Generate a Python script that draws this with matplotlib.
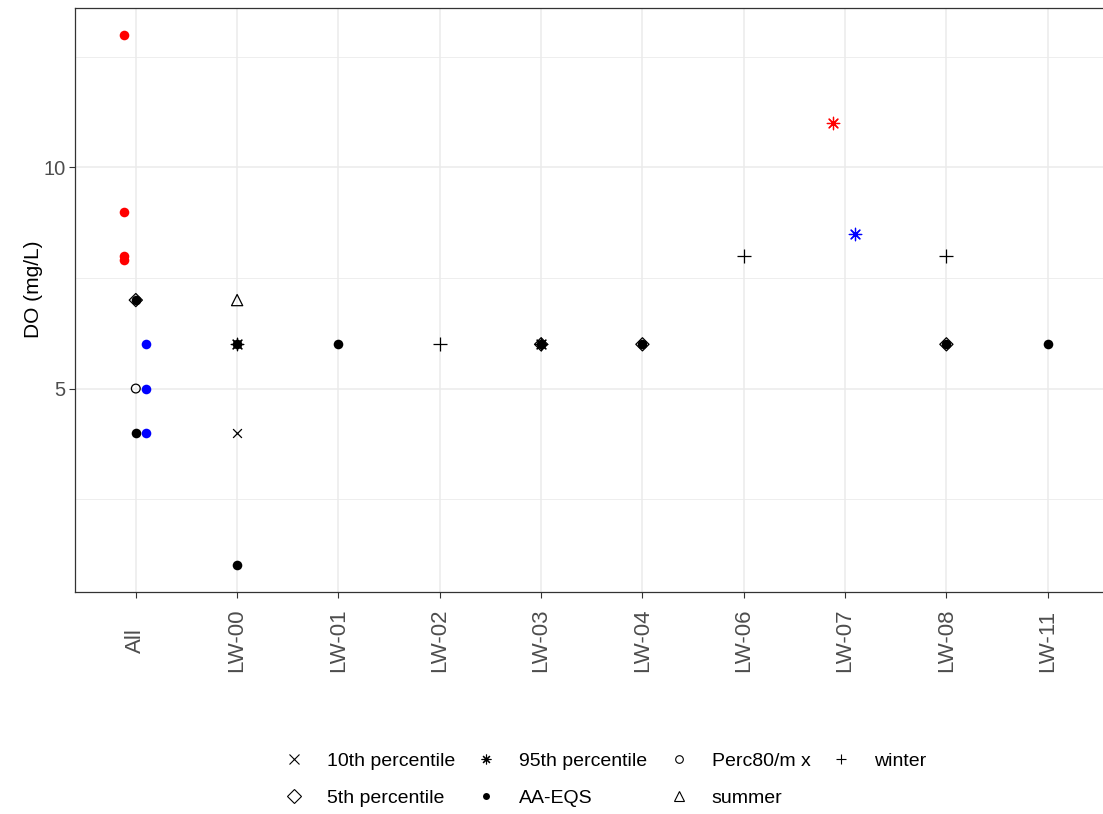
import matplotlib.pyplot as plt
from matplotlib.lines import Line2D

plt.rcParams['font.family'] = ['Liberation Sans', 'DejaVu Sans']

# sites along the x axis
sites = ['All', 'LW-00', 'LW-01', 'LW-02', 'LW-03', 'LW-04', 'LW-06', 'LW-07', 'LW-08', 'LW-11']

# one entry per plotted point
pt_site = ['All', 'All', 'All', 'All',
           'All', 'All', 'All', 'All',
           'All', 'All', 'All',
           'LW-00', 'LW-00', 'LW-00', 'LW-00', 'LW-00',
           'LW-01', 'LW-02',
           'LW-03', 'LW-03', 'LW-03',
           'LW-04', 'LW-04',
           'LW-06',
           'LW-07', 'LW-07',
           'LW-08', 'LW-08', 'LW-08',
           'LW-11']
pt_value = [13, 9, 8, 7.9,
            7, 7, 5, 4,
            6, 5, 4,
            7, 6, 6, 4, 1,
            6, 6,
            6, 6, 6,
            6, 6,
            8,
            11, 8.5,
            8, 6, 6,
            6]
pt_stat = ['AA-EQS', 'AA-EQS', 'AA-EQS', 'AA-EQS',
           '5th percentile', 'AA-EQS', 'Perc80/m x', 'AA-EQS',
           'AA-EQS', 'AA-EQS', 'AA-EQS',
           'summer', 'AA-EQS', '95th percentile', '10th percentile', 'AA-EQS',
           'AA-EQS', 'winter',
           'AA-EQS', '95th percentile', '5th percentile',
           'AA-EQS', '5th percentile',
           'winter',
           '95th percentile', '95th percentile',
           'winter', 'AA-EQS', '5th percentile',
           'AA-EQS']
pt_group = ['hi', 'hi', 'hi', 'hi',
            'mid', 'mid', 'mid', 'mid',
            'lo', 'lo', 'lo',
            'mid', 'mid', 'mid', 'mid', 'mid',
            'mid', 'mid',
            'mid', 'mid', 'mid',
            'mid', 'mid',
            'mid',
            'hi', 'lo',
            'mid', 'mid', 'mid',
            'mid']

legend_order = ['10th percentile', '5th percentile', '95th percentile', 'AA-EQS',
                'Perc80/m x', 'summer', 'winter']

# styling
group_color = {'hi': '#ff0000', 'mid': 'black', 'lo': '#0000ff'}
group_shift = {'hi': -0.12, 'mid': 0.0, 'lo': 0.1}
stat_style = {
    '10th percentile': dict(marker='x', s=40, filled=False),
    '5th percentile': dict(marker='D', s=45, filled=False),
    '95th percentile': dict(marker=(8, 2, 0), s=80, filled=False),
    'AA-EQS': dict(marker='o', s=48, filled=True),
    'Perc80/m x': dict(marker='o', s=40, filled=False),
    'summer': dict(marker='^', s=65, filled=False),
    'winter': dict(marker='+', s=90, filled=False),
}

fig = plt.figure(figsize=(11.03, 8.14), dpi=100)
ax = fig.add_axes([0.068, 0.2727, 0.937, 0.7173])

for site, val, stat, grp in zip(pt_site, pt_value, pt_stat, pt_group):
    st = stat_style[stat]
    x = sites.index(site) + group_shift[grp]
    c = group_color[grp]
    if st['filled']:
        ax.scatter(x, val, marker=st['marker'], s=st['s'], color=c,
                   linewidths=0, zorder=3)
    elif st['marker'] in ('x', '+') or isinstance(st['marker'], tuple):
        ax.scatter(x, val, marker=st['marker'], s=st['s'], color=c,
                   linewidths=0.9, zorder=3)
    else:
        ax.scatter(x, val, marker=st['marker'], s=st['s'], facecolors='none',
                   edgecolors=c, linewidths=0.9, zorder=3)

ax.set_xlim(-0.6, len(sites) - 0.4)
ax.set_ylim(0.4, 13.6)
ax.set_xticks(range(len(sites)))
ax.set_xticklabels(sites, rotation=90, fontsize=16, color='#4d4d4d', va='center')
ax.set_yticks([5, 10])
ax.set_yticks([2.5, 7.5, 12.5], minor=True)
ax.tick_params(axis='y', labelsize=14.5, labelcolor='#4d4d4d')
ax.tick_params(which='major', length=4, color='#333333', width=0.8, pad=3)
ax.tick_params(axis='x', pad=31)
ax.tick_params(which='minor', length=0)
ax.set_xticks([], minor=True)

ax.grid(which='major', color='#ebebeb', linewidth=1.1, zorder=0)
ax.grid(which='minor', color='#ebebeb', linewidth=0.6, zorder=0)
ax.set_axisbelow(True)
for sp in ax.spines.values():
    sp.set_color('#333333')
    sp.set_linewidth(0.9)

ax.set_ylabel('DO (mg/L)', fontsize=15)
ax.yaxis.set_label_coords(-0.031, 0.519)

handles = []
for lab in legend_order:
    st = stat_style[lab]
    if st['filled']:
        h = Line2D([], [], linestyle='none', marker=st['marker'], markersize=5,
                   color='black', markeredgewidth=0)
    else:
        h = Line2D([], [], linestyle='none', marker=st['marker'],
                   markersize=7 if lab != 'Perc80/m x' else 5.5,
                   markerfacecolor='none', markeredgecolor='black',
                   markeredgewidth=0.8)
    handles.append(h)

fig.legend(handles, legend_order, loc='center', bbox_to_anchor=(0.548, 0.042),
           ncol=4, frameon=False, fontsize=14, handlelength=1.2,
           handletextpad=1.1, columnspacing=1.0, labelspacing=1.0)

fig.savefig('out.png', dpi=100)
